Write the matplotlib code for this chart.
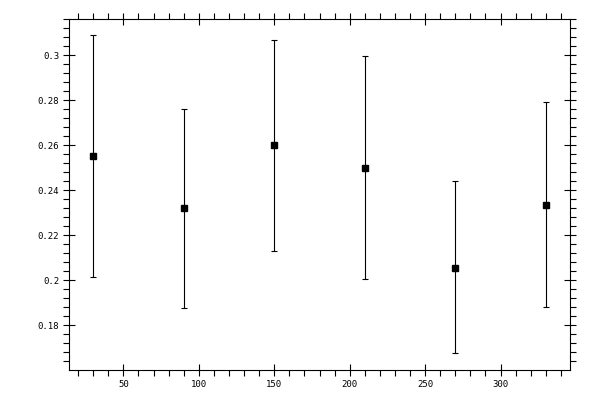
import matplotlib
matplotlib.use("Agg")
import matplotlib.pyplot as plt
from matplotlib.ticker import MultipleLocator, FormatStrFormatter

# --- DATA ---
x = [30, 90, 150, 210, 270, 330]
y = [0.255, 0.232, 0.260, 0.250, 0.2055, 0.2333]
y_low = [0.2016, 0.1875, 0.2129, 0.2005, 0.1675, 0.1880]
y_high = [0.3090, 0.2760, 0.3068, 0.2997, 0.2440, 0.2791]

err_low = [v - lo for v, lo in zip(y, y_low)]
err_high = [hi - v for v, hi in zip(y, y_high)]

plt.rcParams['font.family'] = ['DejaVu Sans Mono']

fig = plt.figure(figsize=(6, 4), dpi=100)
ax = fig.add_axes([69 / 600, 30 / 400, 501 / 600, 351 / 400])

ax.errorbar(x, y, yerr=[err_low, err_high], fmt='s', color='black',
            ecolor='black', markersize=5, elinewidth=0.8, capsize=2,
            capthick=0.8)

ax.set_xlim(14, 346)
ax.set_ylim(0.1601, 0.3161)

ax.xaxis.set_major_locator(MultipleLocator(50))
ax.xaxis.set_minor_locator(MultipleLocator(10))
ax.yaxis.set_major_locator(MultipleLocator(0.02))
ax.yaxis.set_minor_locator(MultipleLocator(0.004))
ax.yaxis.set_major_formatter(FormatStrFormatter('%g'))

ax.tick_params(which='major', direction='inout', length=8, width=0.8,
               top=True, right=True, labelsize=6.5, pad=3)
ax.tick_params(which='minor', direction='out', length=4, width=0.8,
               top=True, right=True)
for s in ax.spines.values():
    s.set_linewidth(0.8)

fig.savefig("out.png", dpi=100)
